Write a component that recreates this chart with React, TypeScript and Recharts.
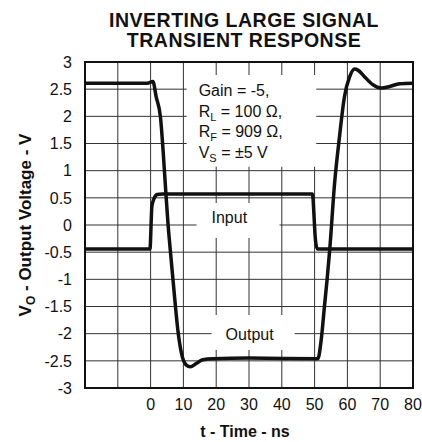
import React from 'react';
import {CartesianGrid, Line, LineChart, ReferenceArea, XAxis, YAxis} from 'recharts';

// input pulse, ns / V
const inputTime = [-20, -0.2, 0.4, 1.0, 2.0, 3.5, 49.3, 50.3, 50.8, 80];
const inputVolt = [-0.44, -0.44, 0.35, 0.48, 0.56, 0.57, 0.57, -0.3, -0.44, -0.44];

// output (inverted, gain -5)
const outputTime = [
  -20, -1, 0.7, 1.7, 3.0, 3.8, 4.6, 5.3, 6.0, 7.3, 8.3, 9.4, 10.9, 12.1, 13.9, 15.9, 19, 30,
  51, 52, 53, 53.8, 54.6, 56.1, 57.6, 59.1, 60.7, 62.2, 63.2, 65.2, 67.8, 70.3, 72.9, 75.9, 80,
];
const outputVolt = [
  2.61, 2.61, 2.64, 2.36, 1.99, 1.38, 0.64, 0.03, -0.46, -1.32, -1.93, -2.36, -2.58, -2.61, -2.55, -2.48, -2.46, -2.45,
  -2.46, -2.12, -1.5, -1.01, -0.46, 0.77, 1.63, 2.36, 2.73, 2.87, 2.85, 2.73, 2.58, 2.52, 2.55, 2.6, 2.61,
];

const timeTicks = [-10, 0, 10, 20, 30, 40, 50, 60, 70, 80];
const voltTicks = [-3, -2.5, -2, -1.5, -1, -0.5, 0, 0.5, 1, 1.5, 2, 2.5, 3];

const inputData = inputTime.map((t, i) => ({t, v: inputVolt[i]}));
const outputData = outputTime.map((t, i) => ({t, v: outputVolt[i]}));

const font = '"Liberation Sans", Arial, sans-serif';
const ink = '#111';

export default function App() {
  return (
    <div style={{position: 'absolute', left: 0, top: 0, width: 422, height: 442, background: '#fff', fontFamily: font}}>
      <div
        style={{
          position: 'absolute',
          left: 44,
          top: 10,
          width: 400,
          textAlign: 'center',
          fontSize: 19.5,
          letterSpacing: 0.5,
          lineHeight: '20px',
          fontWeight: 'bold',
          color: ink,
        }}
      >
        <div>INVERTING LARGE SIGNAL</div>
        <div>TRANSIENT RESPONSE</div>
      </div>
      <div style={{position: 'absolute', left: 0, top: 0}}>
        <LineChart width={422} height={442} margin={{top: 62, right: 9, bottom: 0, left: 40}}>
          <CartesianGrid stroke="#333" strokeWidth={1} />
          <XAxis
            dataKey="t"
            type="number"
            domain={[-20, 80]}
            ticks={timeTicks}
            interval={0}
            height={54}
            axisLine={false}
            tickLine={false}
            tickSize={0}
            tickMargin={11}
            tick={{fontSize: 16, fill: ink, fontFamily: font}}
            tickFormatter={(v) => (v < 0 ? '' : String(v))}
            label={(props: any) => {
              const vb = props.viewBox;
              const cx = vb ? vb.x + vb.width / 2 : 249;
              return (
                <text x={cx - 4} y={437} textAnchor="middle" fontSize={16} fontWeight="bold" fontFamily={font} fill={ink}>
                  t - Time - ns
                </text>
              );
            }}
          />
          <YAxis
            type="number"
            domain={[-3, 3]}
            ticks={voltTicks}
            interval={0}
            width={45}
            axisLine={false}
            tickLine={false}
            tickSize={0}
            tickMargin={13}
            tick={{fontSize: 16, fill: ink, fontFamily: font}}
            label={(props: any) => {
              const vb = props.viewBox;
              const cy = vb ? vb.y + vb.height / 2 : 225;
              return (
                <text
                  transform={`translate(31, ${cy}) rotate(-90)`}
                  textAnchor="middle"
                  fontSize={17}
                  fontWeight="bold"
                  fontFamily={font}
                  fill={ink}
                >
                  V<tspan dy={4} fontSize={12}>O</tspan>
                  <tspan dy={-4}> - Output Voltage - V</tspan>
                </text>
              );
            }}
          />
          <ReferenceArea
            x1={11}
            x2={50.5}
            y1={1.07}
            y2={2.76}
            fill="#fff"
            fillOpacity={1}
            stroke="none"
            label={(props: any) => {
              const {x, y} = props.viewBox;
              const tx = x + 12;
              const sub = (s: string) => (
                <tspan dy={4} fontSize={11}>
                  {s}
                </tspan>
              );
              return (
                <text fontSize={16} fontFamily={font} fill={ink}>
                  <tspan x={tx} y={y + 21}>Gain = -5,</tspan>
                  <tspan x={tx} y={y + 41.5}>R</tspan>
                  {sub('L')}
                  <tspan dy={-4}> = 100 Ω,</tspan>
                  <tspan x={tx} y={y + 62}>R</tspan>
                  {sub('F')}
                  <tspan dy={-4}> = 909 Ω,</tspan>
                  <tspan x={tx} y={y + 83}>V</tspan>
                  {sub('S')}
                  <tspan dy={-4}> = ±5 V</tspan>
                </text>
              );
            }}
          />
          <ReferenceArea
            x1={14}
            x2={39.3}
            y1={-0.24}
            y2={0.405}
            fill="#fff"
            fillOpacity={1}
            stroke="none"
            label={(props: any) => {
              const {x, y} = props.viewBox;
              return (
                <text x={x + 15} y={y + 20} fontSize={16} fontFamily={font} fill={ink}>
                  Input
                </text>
              );
            }}
          />
          <ReferenceArea
            x1={18.6}
            x2={43.9}
            y1={-2.3}
            y2={-1.657}
            fill="#fff"
            fillOpacity={1}
            stroke="none"
            label={(props: any) => {
              const {x, y} = props.viewBox;
              return (
                <text x={x + 14} y={y + 25} fontSize={16} fontFamily={font} fill={ink}>
                  Output
                </text>
              );
            }}
          />
          <ReferenceArea x1={-20} x2={80} y1={-3} y2={3} fill="none" stroke={ink} strokeWidth={2} />
          <Line
            data={inputData}
            dataKey="v"
            type="monotone"
            stroke={ink}
            strokeWidth={3.5}
            dot={false}
            activeDot={false}
            isAnimationActive={false}
          />
          <Line
            data={outputData}
            dataKey="v"
            type="monotone"
            stroke={ink}
            strokeWidth={3.5}
            dot={false}
            activeDot={false}
            isAnimationActive={false}
          />
        </LineChart>
      </div>
    </div>
  );
}
